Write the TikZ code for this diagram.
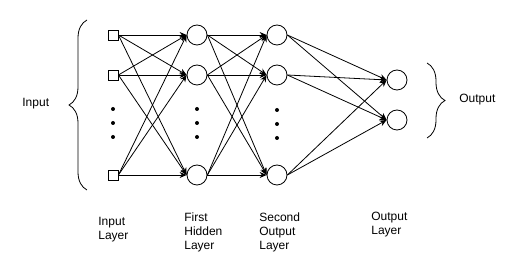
\documentclass[tikz,border=0pt]{standalone}
\usepackage{fontspec}
\setmainfont{Liberation Sans}
\usetikzlibrary{arrows.meta,decorations.pathreplacing}

\begin{document}
\begin{tikzpicture}[x=1pt,y=-1pt,line width=0.8pt,
  inp/.style={draw,minimum size=10pt,inner sep=0pt},
  neuron/.style={draw,circle,minimum size=20pt,inner sep=0pt},
  dot/.style={circle,fill,minimum size=4pt,inner sep=0pt},
  arr/.style={-{Stealth[length=7pt,width=6pt]}},
  lbl/.style={anchor=west,align=left,inner sep=0pt,font=\fontsize{12}{14}\selectfont},
  curly/.style={decorate,decoration={brace,amplitude=18pt}}]
\useasboundingbox (0,0) rectangle (528,272);

% input layer
\node[inp] (i1) at (113,35) {};
\node[inp] (i2) at (113,75) {};
\node[inp] (i3) at (113,175) {};
\node[dot] (di1) at (113,109) {};
\node[dot] (di2) at (113,123) {};
\node[dot] (di3) at (113,137) {};

% first hidden layer
\node[neuron] (h1) at (197,35) {};
\node[neuron] (h2) at (197,75) {};
\node[neuron] (h3) at (197,175) {};
\node[dot] (dh1) at (197,109) {};
\node[dot] (dh2) at (197,123) {};
\node[dot] (dh3) at (197,137) {};

% second layer
\node[neuron] (s1) at (277,35) {};
\node[neuron] (s2) at (277,75) {};
\node[neuron] (s3) at (277,175) {};
\node[dot] (ds1) at (277,110) {};
\node[dot] (ds2) at (277,124) {};
\node[dot] (ds3) at (277,138) {};

% output layer
\node[neuron] (o1) at (397,80) {};
\node[neuron] (o2) at (397,120) {};

\draw[arr] (i1.east)--(h1.west);
\draw[arr] (i1.east)--(h2.west);
\draw[arr] (i1.east)--(h3.west);
\draw[arr] (i2.east)--(h1.west);
\draw[arr] (i2.east)--(h2.west);
\draw[arr] (i2.east)--(h3.west);
\draw[arr] (i3.east)--(h1.west);
\draw[arr] (i3.east)--(h2.west);
\draw[arr] (i3.east)--(h3.west);

\draw[arr] (h1.east)--(s1.west);
\draw[arr] (h1.east)--(s2.west);
\draw[arr] (h1.east)--(s3.west);
\draw[arr] (h2.east)--(s1.west);
\draw[arr] (h2.east)--(s2.west);
\draw[arr] (h2.east)--(s3.west);
\draw[arr] (h3.east)--(s1.west);
\draw[arr] (h3.east)--(s2.west);
\draw[arr] (h3.east)--(s3.west);

\draw[arr] (s1.east)--(o1.west);
\draw[arr] (s1.east)--(o2.west);
\draw[arr] (s2.east)--(o1.west);
\draw[arr] (s2.east)--(o2.west);
\draw[arr] (s3.east)--(o1.west);
\draw[arr] (s3.east)--(o2.west);

% braces
\coordinate (ib1) at (87,190);
\coordinate (ib2) at (87,20);
\coordinate (ob1) at (427,63);
\coordinate (ob2) at (427,138);
\draw[curly] (ib1)--(ib2);
\draw[curly] (ob1)--(ob2);

\node[lbl] (input) at (22,104) {Input};
\node[lbl] (output) at (459,100) {Output};

% layer labels
\node[lbl] (l1) at (98,230) {Input\\Layer};
\node[lbl] (l2) at (184,232) {First\\Hidden\\Layer};
\node[lbl] (l3) at (259,232) {Second\\Output\\Layer};
\node[lbl] (l4) at (371,225) {Output\\Layer};
\end{tikzpicture}
\end{document}
